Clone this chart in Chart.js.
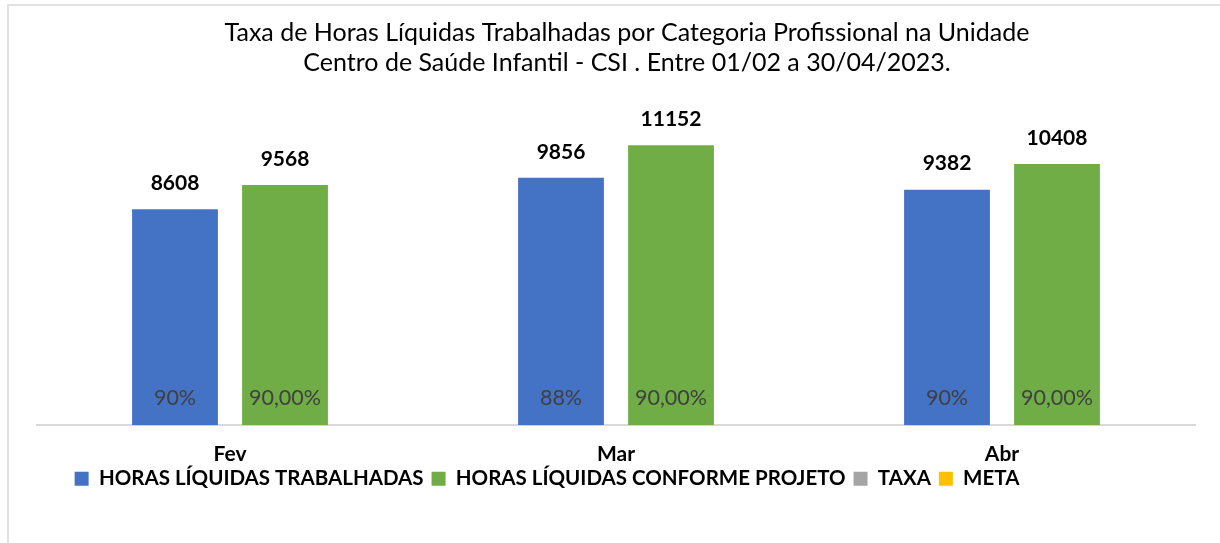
<!DOCTYPE html>
<html>
<head>
<meta charset="utf-8">
<script src="https://cdn.jsdelivr.net/npm/chart.js@4/dist/chart.umd.min.js"></script>
<style>
  html, body { margin: 0; padding: 0; background: #fff; overflow: hidden; }
  #frame { position: absolute; left: 7px; top: 4px; width: 1300px; height: 600px; border: 2px solid #e2e2e2; }
  #wrap { position: absolute; left: 0; top: 0; width: 1254px; height: 543px; }
</style>
</head>
<body>
<div id="frame"></div>
<div id="wrap"><canvas id="chart"></canvas></div>
<script>
// dados
const meses = ["Fev", "Mar", "Abr"];
const horasTrabalhadas = [8608, 9856, 9382];
const horasProjeto = [9568, 11152, 10408];
const taxa = [0.90, 0.88, 0.90];
const meta = [0.90, 0.90, 0.90];

const FONTE = "Lato, 'Open Sans', sans-serif";

// rótulos: valor em cima da barra e percentagem dentro da barra
const rotulosPlugin = {
    id: 'rotulos',
    afterDatasetsDraw(chart) {
        const ctx = chart.ctx;
        const yScale = chart.scales.y;
        const base = yScale.getPixelForValue(0);
        ctx.save();
        ctx.textAlign = 'center';
        ctx.textBaseline = 'middle';

        [0, 1].forEach(di => {
            const meta_ = chart.getDatasetMeta(di);
            meta_.data.forEach((bar, i) => {
                ctx.font = "bold 21px " + FONTE;
                ctx.fillStyle = '#000';
                ctx.fillText(String(chart.data.datasets[di].data[i]), bar.x, bar.y - 26);

                ctx.font = "21.5px " + FONTE;
                ctx.fillStyle = '#404040';
                const txt = di === 0
                    ? Math.round(taxa[i] * 100) + '%'
                    : (meta[i] * 100).toFixed(2).replace('.', ',') + '%';
                ctx.fillText(txt, bar.x, base - 27);
            });
        });
        ctx.restore();
    }
};

// ajustar posição do título e da legenda como no original
const posicaoPlugin = {
    id: 'posicao',
    afterLayout(chart) {
        if (chart.legend) {
            chart.legend.left -= 69;
            chart.legend.right -= 69;
            chart.legend.top -= 22;
            chart.legend.bottom -= 22;
        }
        if (chart.titleBlock) {
            chart.titleBlock.left += 11;
            chart.titleBlock.right += 11;
        }
    }
};

const ctx = document.getElementById('chart').getContext('2d');
new Chart(ctx, {
    type: 'bar',
    data: {
        labels: meses,
        datasets: [
            {
                label: 'HORAS LÍQUIDAS TRABALHADAS',
                data: horasTrabalhadas,
                backgroundColor: '#4472C4',
                borderColor: '#4472C4',
                borderWidth: 0,
                categoryPercentage: 0.57,
                barPercentage: 0.78,
                yAxisID: 'y'
            },
            {
                label: 'HORAS LÍQUIDAS CONFORME PROJETO',
                data: horasProjeto,
                backgroundColor: '#70AD47',
                borderColor: '#70AD47',
                borderWidth: 0,
                categoryPercentage: 0.57,
                barPercentage: 0.78,
                yAxisID: 'y'
            },
            {
                type: 'line',
                label: 'TAXA',
                data: taxa,
                backgroundColor: '#A5A5A5',
                borderColor: '#A5A5A5',
                borderWidth: 0,
                showLine: false,
                pointRadius: 0,
                yAxisID: 'y2'
            },
            {
                type: 'line',
                label: 'META',
                data: meta,
                backgroundColor: '#FFC000',
                borderColor: '#FFC000',
                borderWidth: 0,
                showLine: false,
                pointRadius: 0,
                yAxisID: 'y2'
            }
        ]
    },
    options: {
        responsive: true,
        maintainAspectRatio: false,
        animation: false,
        layout: { padding: { left: 37, right: 59, top: 0, bottom: 22 } },
        plugins: {
            title: {
                display: true,
                text: ['Taxa de Horas Líquidas Trabalhadas por Categoria Profissional na Unidade',
                       'Centro de Saúde Infantil - CSI . Entre 01/02 a 30/04/2023.'],
                color: '#000',
                font: { family: FONTE, size: 25, weight: 'normal', lineHeight: 1.2 },
                padding: { top: 18, bottom: 46 }
            },
            legend: {
                position: 'bottom',
                labels: {
                    color: '#000',
                    boxWidth: 14,
                    boxHeight: 14,
                    padding: 8,
                    font: { family: FONTE, size: 20.5, weight: 'bold' }
                }
            },
            tooltip: { enabled: false }
        },
        scales: {
            x: {
                grid: { display: false, drawTicks: false },
                border: { display: true, color: '#d9d9d9', width: 2 },
                ticks: {
                    color: '#000',
                    padding: 16,
                    font: { family: FONTE, size: 21, weight: 'bold' }
                }
            },
            y: { display: false, min: 0, max: 12000 },
            y2: { display: false, min: 0, max: 1 }
        }
    },
    plugins: [rotulosPlugin, posicaoPlugin]
});
</script>
</body>
</html>
